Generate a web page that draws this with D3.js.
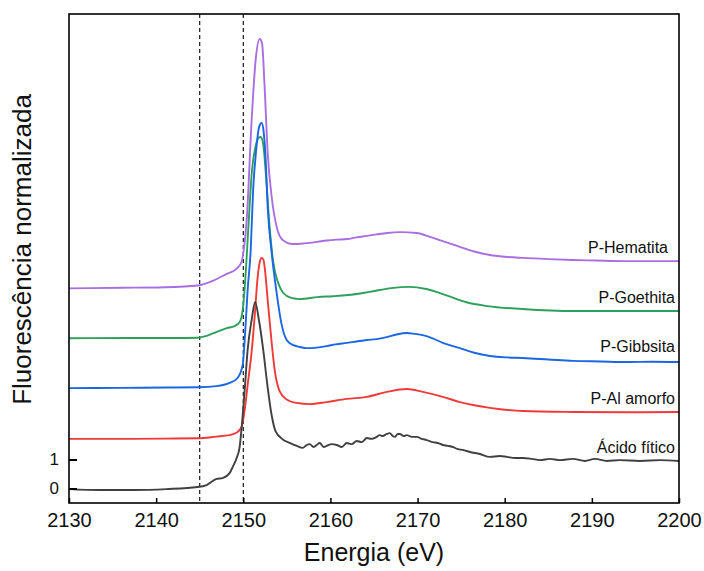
<!DOCTYPE html>
<html>
<head>
<meta charset="utf-8">
<script src="https://cdn.jsdelivr.net/npm/d3@7/dist/d3.min.js"></script>
<style>
  html, body { margin: 0; padding: 0; background: #fff; }
  svg { display: block; font-family: "Liberation Sans", Arial, sans-serif; }
</style>
</head>
<body>
<svg id="chart" width="704" height="571"></svg>
<script>
// P K-edge XANES spectra, normalized fluorescence, stacked with vertical offsets
const seriesNames = ["P-Hematita", "P-Goethita", "P-Gibbsita", "P-Al amorfo", "Ácido fítico"];
const seriesColors = ["#a86ee2", "#2ea05c", "#1a66e3", "#f03a3a", "#404040"];

const xTicks = [2130, 2140, 2150, 2160, 2170, 2180, 2190, 2200];
const yTicks = [0, 1];
const refLines = [2145, 2150];

const energyHematita = [2130, 2136, 2141, 2144.8, 2146.5, 2148.1, 2149.2, 2149.8, 2150.0, 2150.4, 2150.96, 2151.42, 2151.88, 2152.15, 2152.45, 2152.8, 2153.26, 2153.83, 2154.52, 2155.67, 2156.6, 2157.6, 2158.6, 2159.6, 2160.7, 2161.9, 2163, 2164.2, 2165.3, 2166.5, 2168, 2169.9, 2171, 2172.2, 2173.5, 2174.85, 2176.5, 2178.3, 2180, 2182.1, 2185, 2187.8, 2190.5, 2193.6, 2197, 2200];
const fluorHematita = [6.90, 6.92, 6.94, 7.00, 7.16, 7.40, 7.57, 7.81, 8.12, 9.30, 12.71, 14.78, 15.50, 15.35, 13.84, 11.57, 10.05, 9.02, 8.57, 8.43, 8.44, 8.47, 8.51, 8.55, 8.58, 8.60, 8.66, 8.71, 8.76, 8.81, 8.84, 8.81, 8.72, 8.60, 8.47, 8.33, 8.17, 8.05, 7.99, 7.95, 7.91, 7.88, 7.86, 7.84, 7.84, 7.84];

const energyGoethita = [2130, 2137, 2142, 2144.76, 2145.8, 2146.94, 2148.1, 2149.0, 2149.6, 2150.0, 2150.3, 2150.6, 2151.0, 2151.4, 2151.75, 2152.0, 2152.3, 2152.6, 2153.0, 2153.4, 2154.0, 2154.6, 2155.5, 2156.5, 2158.5, 2160.3, 2162, 2164.5, 2167, 2169, 2171, 2173.5, 2175.5, 2178, 2182, 2188, 2194, 2200];
const fluorGoethita = [5.18, 5.19, 5.19, 5.20, 5.26, 5.40, 5.53, 5.60, 5.74, 6.33, 7.53, 9.09, 10.98, 11.78, 12.09, 12.12, 11.84, 10.81, 9.09, 7.88, 7.09, 6.74, 6.57, 6.53, 6.60, 6.63, 6.67, 6.78, 6.91, 6.95, 6.88, 6.64, 6.43, 6.29, 6.19, 6.12, 6.12, 6.12];

const energyGibbsita = [2130, 2136, 2141, 2144.76, 2146.94, 2148.43, 2149.35, 2149.93, 2150.21, 2150.5, 2150.85, 2151.13, 2151.48, 2151.82, 2152.11, 2152.34, 2152.57, 2152.8, 2153.26, 2153.83, 2154.41, 2154.98, 2155.67, 2156.5, 2157.28, 2158.2, 2159.57, 2160.6, 2161.87, 2163, 2164.17, 2165.3, 2166.46, 2167.6, 2168.76, 2169.7, 2170.6, 2171.8, 2172.9, 2174.85, 2176.5, 2178.3, 2180.2, 2182.08, 2185, 2187.83, 2191, 2194, 2197, 2200];
const fluorGibbsita = [3.46, 3.47, 3.48, 3.49, 3.53, 3.64, 3.81, 4.26, 5.36, 6.84, 8.22, 10.29, 11.67, 12.47, 12.60, 12.29, 11.33, 9.71, 8.12, 6.74, 5.64, 5.12, 4.95, 4.88, 4.84, 4.85, 4.91, 4.97, 5.02, 5.07, 5.12, 5.15, 5.22, 5.31, 5.36, 5.33, 5.29, 5.17, 5.02, 4.84, 4.68, 4.57, 4.52, 4.50, 4.45, 4.40, 4.38, 4.36, 4.37, 4.36];

const energyAlAmorfo = [2130, 2136, 2141, 2144.8, 2146.9, 2148.4, 2149.2, 2149.8, 2150.16, 2150.5, 2150.96, 2151.3, 2151.65, 2151.95, 2152.1, 2152.3, 2152.45, 2152.8, 2153.26, 2153.6, 2154.18, 2154.98, 2156.13, 2157.62, 2159.57, 2161.87, 2164.17, 2166.46, 2168.76, 2170.6, 2172.9, 2174.85, 2176.5, 2178.3, 2182.08, 2187.83, 2194, 2200];
const fluorAlAmorfo = [1.71, 1.71, 1.72, 1.73, 1.79, 1.84, 1.92, 2.12, 2.71, 3.57, 4.72, 5.91, 7.29, 7.88, 7.95, 7.90, 7.64, 6.50, 5.02, 4.09, 3.35, 3.07, 2.95, 2.91, 2.98, 3.09, 3.16, 3.33, 3.43, 3.33, 3.16, 2.98, 2.87, 2.78, 2.67, 2.64, 2.63, 2.64];

const energyFitico = [2130, 2133.5, 2137.3, 2141.2, 2144.76, 2145.79, 2146.94, 2147.63, 2148.43, 2148.78, 2149.24, 2149.58, 2149.81, 2150.16, 2150.5, 2150.96, 2151.36, 2151.8, 2152.3, 2152.75, 2153.2, 2153.7, 2154.5, 2155.32, 2156.13, 2156.82, 2157.28, 2157.62, 2158.08, 2158.43, 2158.77, 2159.23, 2159.57, 2160.15, 2160.72, 2161.3, 2161.87, 2162.45, 2163.02, 2163.59, 2164.17, 2164.74, 2165.32, 2165.66, 2166.0, 2166.46, 2166.81, 2167.15, 2167.38, 2167.73, 2167.96, 2168.42, 2168.76, 2169.34, 2169.91, 2170.48, 2171.06, 2171.75, 2172.32, 2172.9, 2173.47, 2174.05, 2174.62, 2175.19, 2176.0, 2177.15, 2178.3, 2179.45, 2180.25, 2181.17, 2182.08, 2183.12, 2184.04, 2185.19, 2186.33, 2187.83, 2189.21, 2190.35, 2191.73, 2193.22, 2195.52, 2197.82, 2200];
const fluorFitico = [-0.02, -0.05, -0.05, -0.02, 0.05, 0.12, 0.33, 0.36, 0.53, 0.74, 1.05, 1.43, 2.09, 3.40, 4.78, 5.81, 6.43, 5.80, 4.75, 3.60, 2.62, 1.98, 1.70, 1.57, 1.47, 1.40, 1.50, 1.53, 1.43, 1.50, 1.57, 1.43, 1.47, 1.53, 1.50, 1.43, 1.57, 1.53, 1.64, 1.60, 1.74, 1.71, 1.78, 1.84, 1.81, 1.88, 1.91, 1.81, 1.78, 1.88, 1.88, 1.81, 1.84, 1.78, 1.78, 1.71, 1.67, 1.60, 1.57, 1.50, 1.47, 1.43, 1.36, 1.33, 1.26, 1.19, 1.09, 1.12, 1.09, 1.05, 1.05, 1.02, 0.98, 1.02, 0.98, 1.02, 0.95, 1.02, 0.95, 0.98, 0.95, 0.98, 0.95];

const seriesEnergy = [energyHematita, energyGoethita, energyGibbsita, energyAlAmorfo, energyFitico];
const seriesFluor = [fluorHematita, fluorGoethita, fluorGibbsita, fluorAlAmorfo, fluorFitico];

// ---- layout ----
const svg = d3.select("#chart");
const plot = { left: 69, right: 679, top: 14, bottom: 503 };

const x = d3.scaleLinear().domain([2130, 2200]).range([plot.left, plot.right]);
const y = d3.scaleLinear().domain([-0.5, 16.36]).range([plot.bottom, plot.top]);

const g = svg.append("g");

// clip the spectra to the plot frame
svg.append("defs").append("clipPath").attr("id", "plotClip")
  .append("rect")
  .attr("x", plot.left).attr("y", plot.top)
  .attr("width", plot.right - plot.left).attr("height", plot.bottom - plot.top);

// dashed reference energies
g.selectAll("line.ref").data(refLines).join("line")
  .attr("class", "ref")
  .attr("x1", d => x(d)).attr("x2", d => x(d))
  .attr("y1", plot.top).attr("y2", plot.bottom)
  .attr("stroke", "#000").attr("stroke-width", 1.1)
  .attr("stroke-dasharray", "4,3");

// spectra
const line = d3.line()
  .x(d => x(d[0]))
  .y(d => y(d[1]))
  .curve(d3.curveMonotoneX);

const curves = g.append("g").attr("clip-path", "url(#plotClip)");
seriesNames.forEach((name, i) => {
  const pts = seriesEnergy[i].map((e, k) => [e, seriesFluor[i][k]]);
  curves.append("path")
    .datum(pts)
    .attr("fill", "none")
    .attr("stroke", seriesColors[i])
    .attr("stroke-width", 1.9)
    .attr("stroke-linejoin", "round")
    .attr("d", line);
});

// series labels, right-aligned near the frame
const labelPos = [
  { x: 668, y: 253 },
  { x: 675, y: 303 },
  { x: 675, y: 352 },
  { x: 675, y: 404 },
  { x: 675, y: 453 }
];
g.selectAll("text.series").data(seriesNames).join("text")
  .attr("class", "series")
  .attr("x", (d, i) => labelPos[i].x)
  .attr("y", (d, i) => labelPos[i].y)
  .attr("text-anchor", "end")
  .attr("font-size", 16)
  .attr("fill", "#111")
  .text(d => d);

// x axis: ticks point inward
const xAxis = d3.axisBottom(x).tickValues(xTicks).tickSize(-5).tickPadding(10).tickFormat(d3.format("d"));
const xg = g.append("g").attr("transform", `translate(0,${plot.bottom})`).call(xAxis);
xg.select(".domain").remove();
xg.selectAll(".tick line").attr("stroke", "#000").attr("stroke-width", 1.5);
xg.selectAll(".tick text").attr("font-size", 20).attr("fill", "#111")
  .attr("font-family", "Liberation Sans, Arial, sans-serif");

// y axis: only the 0 and 1 marks
const yAxis = d3.axisLeft(y).tickValues(yTicks).tickSize(-8).tickPadding(10).tickFormat(d3.format("d"));
const yg = g.append("g").attr("transform", `translate(${plot.left},0)`).call(yAxis);
yg.select(".domain").remove();
yg.selectAll(".tick line").attr("stroke", "#000").attr("stroke-width", 2);
yg.selectAll(".tick text").attr("font-size", 17).attr("fill", "#111")
  .attr("font-family", "Liberation Sans, Arial, sans-serif");

// frame
g.append("rect")
  .attr("x", plot.left).attr("y", plot.top)
  .attr("width", plot.right - plot.left).attr("height", plot.bottom - plot.top)
  .attr("fill", "none").attr("stroke", "#000").attr("stroke-width", 1.6);

// axis titles
svg.append("text")
  .attr("x", (plot.left + plot.right) / 2).attr("y", 561)
  .attr("text-anchor", "middle").attr("font-size", 25).attr("fill", "#111")
  .text("Energia (eV)");

svg.append("text")
  .attr("transform", `translate(31,${(plot.top + plot.bottom) / 2 - 9}) rotate(-90)`)
  .attr("text-anchor", "middle").attr("font-size", 26).attr("fill", "#111")
  .text("Fluorescência normalizada");
</script>
</body>
</html>
